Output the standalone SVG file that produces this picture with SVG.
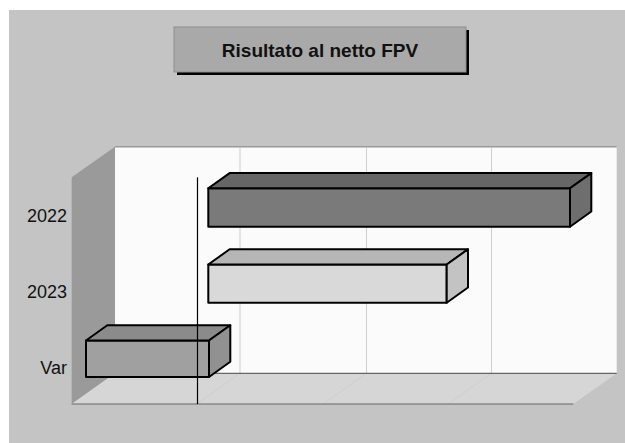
<svg xmlns="http://www.w3.org/2000/svg" width="625" height="443" viewBox="0 0 625 443">
  <style>
    .lbl { font-family: "Liberation Sans", Arial, sans-serif; font-size: 18px; fill: #111; text-anchor: end; }
    .title { font-family: "Liberation Sans", Arial, sans-serif; font-size: 19px; font-weight: bold; fill: #111; text-anchor: middle; }
    .grid { stroke: #cfcfcf; stroke-width: 1; fill: none; }
    .edge { stroke: #000; stroke-width: 2; stroke-linejoin: round; }
  </style>
  <rect x="0" y="0" width="625" height="443" fill="#ffffff"/>
  <rect x="9" y="10" width="616" height="433" fill="#c4c4c4"/>

  <g id="title">
    <rect x="177" y="30" width="292" height="45" fill="#000"/>
    <rect x="174" y="27" width="292" height="45" fill="#a9a9a9" stroke="#8e8e8e" stroke-width="1"/>
    <text class="title" x="320" y="56.5">Risultato al netto FPV</text>
  </g>

  <g id="plot-area">
    <polygon points="71.7,177.3 115,146.7 115,373.3 71.7,404" fill="#9a9a9a"/>
    <polygon points="71.7,404 115,373.3 616.7,373.3 573.3,404" fill="#d6d6d6"/>
    <rect x="115" y="146.7" width="501.7" height="226.6" fill="#fbfbfb"/>
    <line x1="115" y1="146.7" x2="616.7" y2="146.7" stroke="#9a9a9a" stroke-width="1.5"/>
    <line class="grid" x1="240" y1="147.5" x2="240" y2="373"/>
    <line class="grid" x1="366.5" y1="147.5" x2="366.5" y2="373"/>
    <line class="grid" x1="491.5" y1="147.5" x2="491.5" y2="373"/>
    <line class="grid" x1="240" y1="373.3" x2="196.7" y2="404"/>
    <line class="grid" x1="366.5" y1="373.3" x2="323.2" y2="404"/>
    <line class="grid" x1="491.5" y1="373.3" x2="448.2" y2="404"/>
    <line x1="115" y1="373.3" x2="616.7" y2="373.3" stroke="#666" stroke-width="1.2"/>
    <line x1="71.7" y1="404" x2="573.3" y2="404" stroke="#666" stroke-width="1.2"/>
  </g>

  <g id="bar-2022">
    <rect class="edge" x="208.3" y="188.3" width="361.7" height="38.4" fill="#7a7a7a"/>
    <polygon class="edge" points="208.3,188.3 229.6,173.1 591.3,173.1 570,188.3" fill="#666666"/>
    <polygon class="edge" points="570,188.3 591.3,173.1 591.3,211.5 570,226.7" fill="#6e6e6e"/>
  </g>

  <g id="bar-2023">
    <rect class="edge" x="208.3" y="264.5" width="238.4" height="38.2" fill="#d9d9d9"/>
    <polygon class="edge" points="208.3,264.5 229.6,249.3 468,249.3 446.7,264.5" fill="#b6b6b6"/>
    <polygon class="edge" points="446.7,264.5 468,249.3 468,287.5 446.7,302.7" fill="#c3c3c3"/>
  </g>

  <g id="bar-var">
    <rect class="edge" x="86" y="340.5" width="123" height="36.5" fill="#a0a0a0"/>
    <polygon class="edge" points="86,340.5 107.3,325.3 230.3,325.3 209,340.5" fill="#8b8b8b"/>
    <polygon class="edge" points="209,340.5 230.3,325.3 230.3,361.8 209,377" fill="#919191"/>
  </g>

  <g id="connectors">
    <line x1="197.5" y1="177.3" x2="197.5" y2="404" stroke="#000" stroke-width="1.2"/>
  </g>

  <g id="labels">
    <text class="lbl" x="67" y="222.3">2022</text>
    <text class="lbl" x="67" y="297.7">2023</text>
    <text class="lbl" x="67" y="374">Var</text>
  </g>
</svg>
